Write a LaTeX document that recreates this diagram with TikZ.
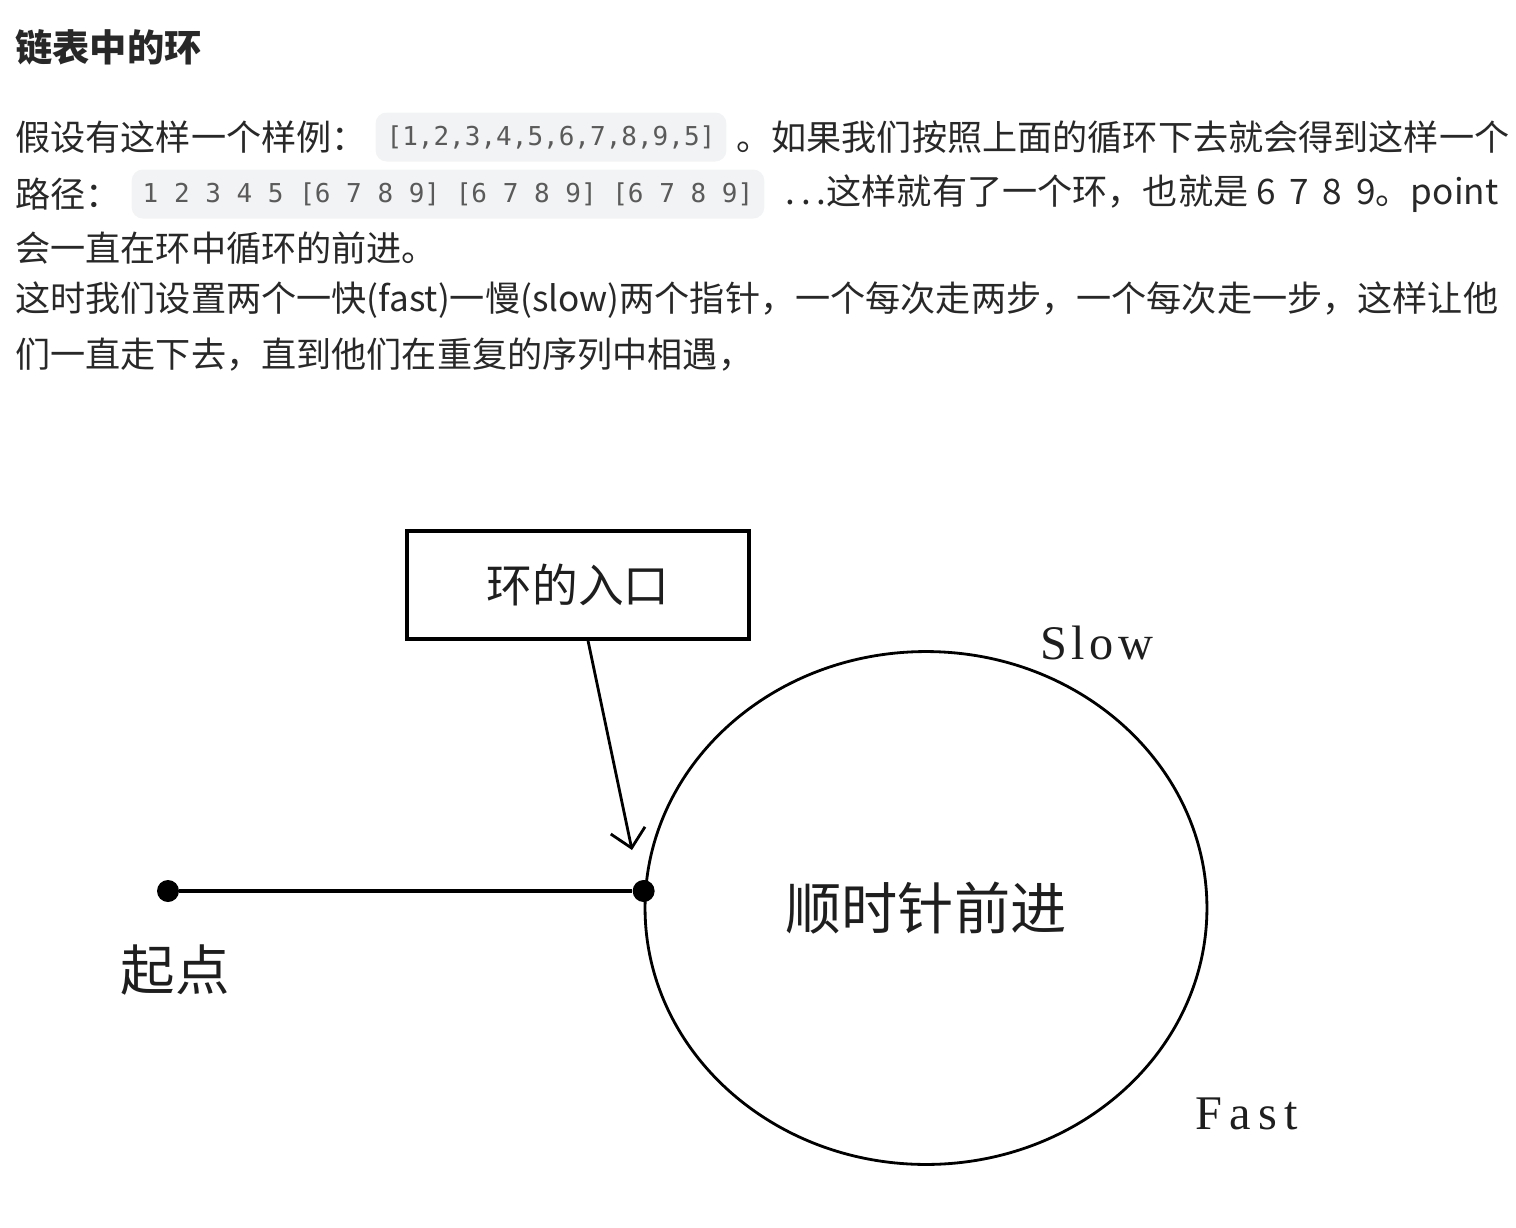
\documentclass[tikz,border=0pt]{standalone}
\usepackage{fontspec}
\usetikzlibrary{arrows.meta,positioning,shapes.geometric}
\newfontfamily\cjk{Noto Sans CJK SC}
\newfontfamily\codefont{DejaVu Sans Mono}
\newfontfamily\figserif{Liberation Serif}
\definecolor{inkgray}{RGB}{40,40,40}
\definecolor{codebg}{RGB}{242,243,244}
\definecolor{codegray}{RGB}{90,90,90}
\definecolor{figink}{RGB}{30,30,30}
\newcommand{\gap}{\hspace{0.12cm}}
\tikzset{
  heading/.style={font=\cjk\bfseries\fontsize{21.2}{25}\selectfont, text=inkgray,
    anchor=west, inner sep=0pt},
  bodyline/.style={font=\cjk\fontsize{20}{24}\selectfont, text=inkgray,
    anchor=west, inner sep=0pt},
  codebox/.style={fill=codebg, rounded corners=0.22cm, text=codegray,
    font=\codefont\fontsize{14.8}{18}\selectfont,
    minimum height=0.98cm, inner xsep=0.22cm},
  entrybox/.style={draw, line width=1.8pt, rectangle,
    minimum width=6.84cm, minimum height=2.16cm, text=figink,
    font=\cjk\fontsize{26}{30}\selectfont},
  loopnode/.style={ellipse, draw, line width=1.6pt, inner sep=0pt,
    minimum width=11.24cm, minimum height=10.26cm, text=figink,
    font=\cjk\fontsize{32}{36}\selectfont},
  dot/.style={circle, fill=black, inner sep=0pt, minimum size=0.44cm},
  pointer/.style={-{Straight Barb[length=0.36cm,width=0.7cm]}, line width=1.6pt},
  figlabel/.style={font=\figserif\fontsize{27.5}{30}\selectfont, text=figink}
}

\begin{document}
\begin{tikzpicture}[x=0.02cm, y=-0.02cm]
\useasboundingbox (0,0) rectangle (1516,1228);

%--------------------------------------------------
% Text block
%--------------------------------------------------
\node[heading] (title) at (15,47) {链表中的环};

\node[bodyline] (line1a) at (15,137) {假设有这样一个样例：};
\node[codebox] (sample) at (551,137) {[1,2,3,4,5,6,7,8,9,5]};
\node[bodyline] (line1b) at (736,137) {。如果我们按照上面的循环下去就会得到这样一个};

\node[bodyline] (line2a) at (15,194) {路径：};
\node[codebox] (route) at (448,194) {1 2 3 4 5 [6 7 8 9] [6 7 8 9] [6 7 8 9]};
\node[bodyline] (line2b) at (785,194)
{.\gap.\gap.这样就有了一个环，也就是 6\gap{} 7\gap{} 8\gap{} 9。point};

\node[bodyline] (line3) at (15,248) {会一直在环中循环的前进。};
\node[bodyline] (line4) at (15,300)
{这时我们设置两个一快(fast)一慢(slow)两个指针，一个每次走两步，一个每次走一步，这样让他};
\node[bodyline] (line5) at (15,355) {们一直走下去，直到他们在重复的序列中相遇，};

%--------------------------------------------------
% Diagram
%--------------------------------------------------
\node[loopnode] (loop) at (926,908) {顺时针前进};

\node[dot] (start) at (168,891) {};
\node[dot] (entry) at (loop.west |- start) {};
\draw[line width=2.2pt] (start) -- (entry);

\node[font=\cjk\fontsize{31}{34}\selectfont, text=figink] (startlbl) at (175,970) {起点};

\node[entrybox] (entrylbl) at (578,585) {环的入口};
\coordinate (tip) at (632,850);
\draw[pointer] ([xshift=0.2cm]entrylbl.south) -- (tip);

\node[figlabel] (slow) at (1097,643) {\addfontfeature{LetterSpace=9}Slow};
\node[figlabel] (fast) at (1247,1114) {\addfontfeature{LetterSpace=15}Fast};

\end{tikzpicture}
\end{document}
